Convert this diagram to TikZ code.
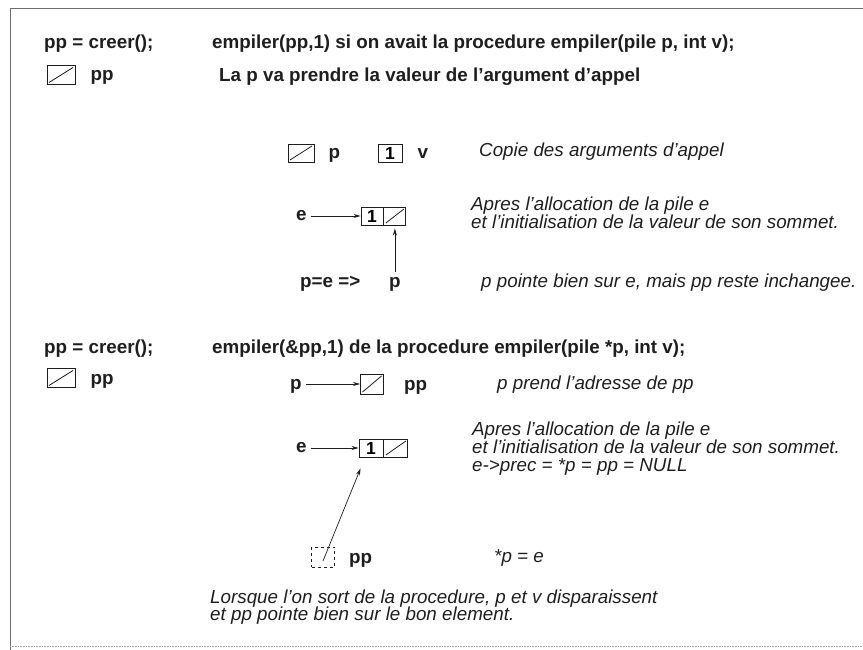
\documentclass[tikz,border=0pt]{standalone}
\usepackage{fontspec}
\setmainfont{Liberation Sans}
\usetikzlibrary{arrows.meta,calc,positioning}
\definecolor{ink}{HTML}{1E1E1E}
\definecolor{rule}{HTML}{6E6E6E}

\tikzset{
  code/.style={font=\fontsize{18.8}{21}\selectfont\bfseries,anchor=west,inner sep=0pt,text height=12pt,text depth=5pt,text=ink},
  boxlabel/.style={code,yshift=-2.5pt},
  note/.style={font=\fontsize{18.8}{21}\selectfont\itshape,anchor=west,inner sep=0pt,text height=12pt,text depth=5pt,text=ink},
  cell/.style={draw=ink,line width=0.9pt,minimum width=24pt,minimum height=18pt,inner sep=0pt,font=\fontsize{17.5}{20}\selectfont\bfseries},
  nullcell/.style={cell,path picture={\draw[ink,line width=0.8pt] ([shift={(2pt,2pt)}]path picture bounding box.south west) -- ([shift={(-2pt,-2pt)}]path picture bounding box.north east);}},
  ptr/.style={-{Stealth[length=7pt,width=4pt]},draw=ink,line width=0.7pt},
}

\begin{document}
\begin{tikzpicture}[x=1pt,y=-1pt]
\useasboundingbox (0,0) rectangle (863,650);
\draw[rule,line width=0.8pt] (863,8) -- (10,8) -- (10,650);
\draw[rule!60,line width=0.6pt,densely dotted] (10,646) -- (863,646);

% passage par valeur
\node[code] (creer1) at (44,45) {pp = creer();};
\node[code] (call1) at (212,45) {empiler(pp,1) si on avait la procedure empiler(pile p, int v);};
\node[nullcell,minimum width=28pt,minimum height=19pt] (pp1) at (61,75) {};
\node[boxlabel,right=15pt of pp1] (pp1lab) {pp};
\node[code] (appel) at (219,78) {La p va prendre la valeur de l'argument d'appel};

\node[nullcell,minimum width=26pt] (pcopy) at (301,153) {};
\node[boxlabel,right=14pt of pcopy] (plab) {p};
\node[cell] (vcopy) at (390,153) {1};
\node[boxlabel,right=15pt of vcopy] (vlab) {v};
\node[note] (copie) at (479,153) {Copie des arguments d'appel};

\node[cell,minimum width=22pt] (e1val) at (372,216) {1};
\node[nullcell,minimum width=22pt,right=0pt of e1val] (e1nil) {};
\node[code] (e1) at (296,217) {e};
\draw[ptr,shorten <=4pt] (e1.east |- e1val.west) -- (e1val.west);
\node[note] (alloc1a) at (471,207) {Apres l'allocation de la pile e};
\node[note] (alloc1b) at (471,225) {et l'initialisation de la valeur de son sommet.};

\node[code] (pe) at (300,284) {p=e =>};
\node[code,anchor=center] (p1) at (e1nil |- pe) {p};
\draw[ptr,shorten <=3pt,shorten >=3pt] (p1) -- (e1nil);
\node[note] (pointe) at (481,284) {p pointe bien sur e, mais pp reste inchangee.};

% passage par adresse
\node[code] (creer2) at (44,350) {pp = creer();};
\node[code] (call2) at (212,350) {empiler(\&pp,1) de la procedure empiler(pile *p, int v);};
\node[nullcell,minimum width=28pt,minimum height=19pt] (pp2) at (61,378) {};
\node[boxlabel,right=15pt of pp2] (pp2lab) {pp};

\node[nullcell,minimum width=23pt,minimum height=20pt] (ppref) at (372,384) {};
\node[boxlabel,right=20pt of ppref] (ppreflab) {pp};
\node[code] (p2) at (290,386) {p};
\draw[ptr,shorten <=4pt] (p2.east |- ppref.west) -- (ppref.west);
\node[note] (adresse) at (497,386) {p prend l'adresse de pp};

\node[cell] (e2val) at (371,448) {1};
\node[nullcell,right=0pt of e2val] (e2nil) {};
\node[code] (e2) at (296,449) {e};
\draw[ptr,shorten <=4pt] (e2.east |- e2val.west) -- (e2val.west);
\node[note] (alloc2a) at (472,432) {Apres l'allocation de la pile e};
\node[note] (alloc2b) at (472,450) {et l'initialisation de la valeur de son sommet.};
\node[note] (alloc2c) at (472,468) {e->prec = *p = pp = NULL};

\node[cell,dashed,minimum width=23pt,minimum height=20pt] (ppnew) at (323,557) {};
\node[boxlabel,right=14pt of ppnew] (ppnewlab) {pp};
\coordinate (e2top) at ([xshift=2pt,yshift=-11pt]e2val.south west);
\draw[ptr] ([yshift=-4pt]ppnew.center) -- (e2top);
\node[note] (deref) at (494,559) {*p = e};

\node[note] (sortie1) at (210,600) {Lorsque l'on sort de la procedure, p et v disparaissent};
\node[note] (sortie2) at (210,617) {et pp pointe bien sur le bon element.};
\end{tikzpicture}
\end{document}
